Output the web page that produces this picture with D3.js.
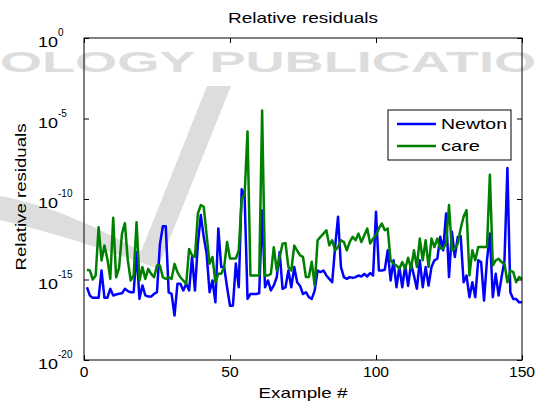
<!DOCTYPE html>
<html><head><meta charset="utf-8">
<script src="https://cdn.jsdelivr.net/npm/d3@7"></script>
<style>body{margin:0;background:#fff}svg{display:block}text{font-family:"Liberation Sans",Arial,sans-serif}</style>
</head><body><svg id="c" width="544" height="403"></svg>
<script>
const examples = d3.range(1, 151);
const newtonExp = [-15.48,-15.99,-16.14,-16.14,-16.14,-14.44,-16.14,-16.14,-15.58,-15.99,
-15.93,-15.89,-15.85,-15.58,-15.72,-15.79,-15.79,-13.3,-16.2,-15.37,
-15.99,-16.06,-16.06,-15.89,-15.79,-12.8,-11.7,-11.7,-15.8,-15.89,
-17.24,-15.27,-15.27,-15.68,-15.27,-15.68,-13.6,-15.69,-12.77,-11.0,
-12.35,-13.4,-15.79,-15.06,-16.42,-11.83,-14.23,-14.23,-15.48,-16.63,
-16.63,-14.0,-15.48,-9.4,-9.8,-16.2,-15.9,-15.9,-15.9,-15.85,
-10.71,-15.48,-15.06,-15.68,-15.37,-14.86,-13.3,-15.58,-15.48,-14.44,
-15.48,-14.23,-15.17,-15.4,-15.9,-15.79,-16.1,-16.2,-15.69,-14.44,
-14.54,-14.44,-14.75,-14.96,-15.17,-12.98,-11.1,-14.23,-14.85,-14.96,
-14.85,-14.9,-14.85,-14.75,-14.81,-14.65,-14.81,-14.6,-14.75,-10.79,
-14.44,-14.44,-14.4,-13.19,-15.06,-13.81,-15.48,-14.23,-15.48,-14.13,
-15.4,-14.02,-14.75,-15.58,-13.81,-15.48,-14.23,-15.38,-14.23,-13.81,
-13.71,-12.35,-13.19,-10.9,-14.85,-12.04,-13.6,-12.35,-12.3,-15.17,
-14.75,-16.1,-15.17,-16.1,-13.81,-13.92,-16.31,-13.81,-12.15,-16.1,
-14.65,-16.0,-14.85,-13.81,-8.08,-15.79,-16.21,-16.21,-16.42,-16.42];
const careExp = [-14.4,-14.44,-15.0,-14.75,-11.75,-13.82,-12.89,-13.72,-14.96,-11.17,
-14.86,-14.3,-12.16,-11.5,-13.8,-15.06,-14.75,-11.44,-15.06,-14.23,
-14.96,-14.34,-14.65,-14.86,-14.13,-14.13,-14.86,-14.96,-14.86,-14.96,
-14.03,-14.54,-14.86,-15.06,-15.27,-13.1,-13.5,-13.6,-10.9,-10.38,
-10.48,-12.25,-14.02,-13.6,-15.17,-14.65,-14.65,-14.23,-12.67,-13.7,
-13.7,-13.7,-13.19,-9.96,-9.75,-5.8,-14.75,-14.75,-14.75,-14.75,
-4.5,-14.75,-14.75,-14.65,-12.99,-14.44,-13.61,-12.78,-12.74,-14.23,
-14.44,-12.89,-13.2,-13.5,-13.6,-14.85,-14.85,-13.9,-15.38,-12.56,
-12.35,-12.15,-11.94,-12.88,-12.56,-13.19,-12.98,-12.56,-12.67,-13.19,
-12.67,-12.35,-12.56,-12.15,-12.67,-12.25,-11.83,-12.77,-12.46,-12.25,
-11.83,-11.52,-11.94,-11.83,-13.81,-14.02,-14.13,-14.33,-13.92,-14.33,
-13.65,-14.33,-13.19,-14.23,-12.46,-13.81,-12.56,-14.23,-12.46,-12.98,
-12.46,-13.08,-13.08,-12.77,-10.38,-13.19,-13.08,-12.77,-11.83,-11.1,
-10.69,-14.75,-13.19,-13.81,-12.98,-12.98,-12.98,-12.98,-8.5,-14.13,
-13.81,-13.71,-13.92,-14.02,-15.17,-14.44,-14.54,-15.17,-14.85,-14.96];
const seriesNames = ["Newton", "care"];
const seriesColors = ["#0000ff", "#008000"];
const xTicks = [0, 50, 100, 150];
const yTickExps = [0, -5, -10, -15, -20];
const titleText = "Relative residuals";
const xLabel = "Example #";
const yLabel = "Relative residuals";
const watermarkText = "OLOGY PUBLICATIO";

const svg = d3.select("#c");
const L = 84, R = 522, T = 38, B = 360;
const x = d3.scaleLinear().domain([0, 150]).range([L, R]);
const y = d3.scaleLog().domain([1e-20, 1]).range([B, T]);

// faint watermark
const wm = svg.append("g").attr("fill", "#dddddd");
wm.append("path").attr("d", "M207,86 L231,86 L158,268 L140,254 Z");
wm.append("path").attr("d", "M0,196 C50,205 100,228 142,252 L156,268 C108,250 50,232 0,220 Z");
wm.append("text").attr("x", 0).attr("y", 72).attr("font-family", "DejaVu Sans").attr("font-weight", "bold")
  .attr("font-size", 29).attr("textLength", 536).attr("lengthAdjust", "spacingAndGlyphs").text(watermarkText);

function label(sel, x0, y0, str, size, anchor, len) {
  const t = sel.append("text").attr("x", x0).attr("y", y0).attr("font-size", size)
    .attr("text-anchor", anchor || "start").text(str);
  if (len) t.attr("textLength", len).attr("lengthAdjust", "spacingAndGlyphs");
  return t;
}

// lines
const line = d3.line().x((d, i) => x(examples[i])).y(d => y(Math.pow(10, d)));
[newtonExp, careExp].forEach((s, k) => {
  svg.append("path").datum(s).attr("d", line).attr("fill", "none")
    .attr("stroke", seriesColors[k]).attr("stroke-width", 2.5).attr("stroke-linejoin", "round");
});

// axes
const yVals = yTickExps.map(e => Math.pow(10, e));
svg.append("g").attr("transform", `translate(${L},0)`).call(d3.axisLeft(y).tickValues(yVals).tickSizeInner(-5).tickSizeOuter(0).tickFormat(""));
svg.append("g").attr("transform", `translate(${R},0)`).call(d3.axisRight(y).tickValues(yVals).tickSizeInner(-5).tickSizeOuter(0).tickFormat(""));
svg.append("g").attr("transform", `translate(0,${B})`).call(d3.axisBottom(x).tickValues(xTicks).tickSizeInner(-5).tickSizeOuter(0).tickFormat(""));
svg.append("g").attr("transform", `translate(0,${T})`).call(d3.axisTop(x).tickValues(xTicks).tickSizeInner(-5).tickSizeOuter(0).tickFormat(""));
svg.selectAll(".domain").remove();
svg.selectAll(".tick line").attr("stroke", "#000");
svg.append("rect").attr("x", L).attr("y", T).attr("width", R - L).attr("height", B - T)
  .attr("fill", "none").attr("stroke", "#000").attr("stroke-width", 1);

// tick labels
xTicks.forEach(v => label(svg, x(v), 377, String(v), 15, "middle", String(v).length * 8.7));
yTickExps.forEach(e => {
  const yy = y(Math.pow(10, e));
  label(svg, 38, yy + 9, "10", 15, "start", 20);
  label(svg, 58, yy - 2, String(e), 10, "start");
});

// titles
label(svg, (L + R) / 2, 23, titleText, 15, "middle", 150);
label(svg, (L + R) / 2, 398, xLabel, 15, "middle", 89);
svg.append("text").attr("transform", "translate(26,197) rotate(-90)").attr("font-size", 15)
  .attr("text-anchor", "middle").attr("textLength", 147).attr("lengthAdjust", "spacingAndGlyphs").text(yLabel);

// legend
const lg = svg.append("g");
lg.append("rect").attr("x", 388).attr("y", 110).attr("width", 123).attr("height", 50)
  .attr("fill", "#fff").attr("stroke", "#000").attr("stroke-width", 1);
seriesNames.forEach((n, k) => {
  const yy = 124 + k * 22;
  lg.append("line").attr("x1", 397).attr("x2", 436).attr("y1", yy).attr("y2", yy)
    .attr("stroke", seriesColors[k]).attr("stroke-width", 2.5);
  label(lg, 441, yy + 5, n, 15, "start", n === "Newton" ? 66 : 39);
});
</script></body></html>
